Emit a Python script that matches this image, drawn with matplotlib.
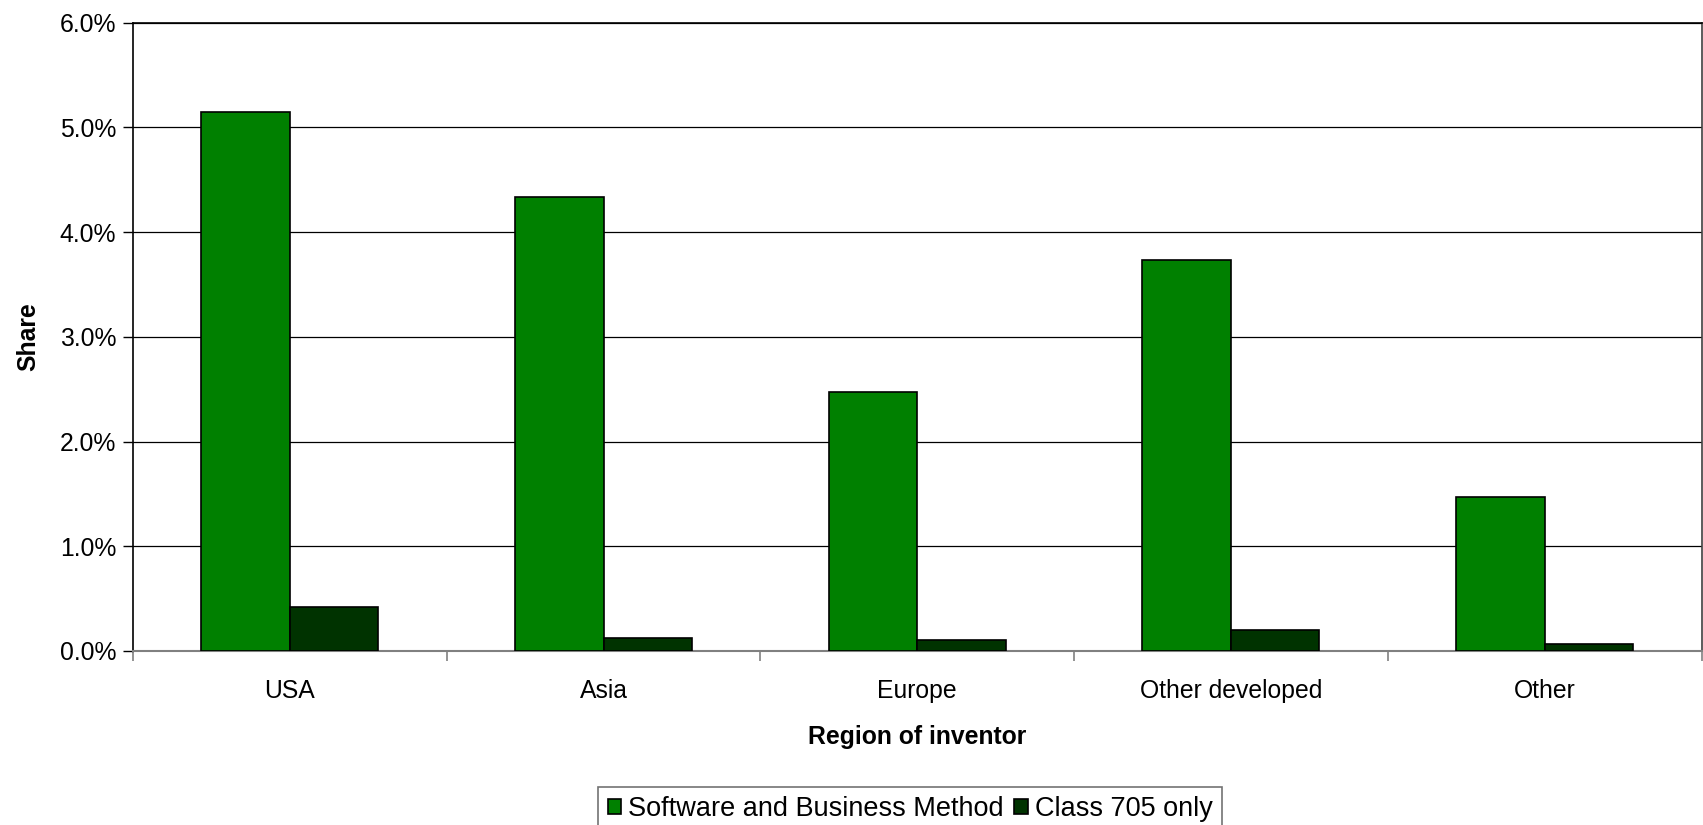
import numpy as np
import matplotlib
matplotlib.use("Agg")
import matplotlib.pyplot as plt
from matplotlib.ticker import FuncFormatter, FixedLocator

plt.rcParams['font.family'] = ['Liberation Sans', 'DejaVu Sans']

regions = ["USA", "Asia", "Europe", "Other developed", "Other"]
software_bm = [5.15, 4.34, 2.47, 3.73, 1.47]   # share, percent
class_705 = [0.42, 0.12, 0.105, 0.20, 0.07]
series_names = ["Software and Business Method", "Class 705 only"]

fs = 17.8

fig = plt.figure(figsize=(17.03, 8.25), dpi=100)
ax = fig.add_axes([133/1703, 1 - 651/825, (1701.5 - 133)/1703, (651 - 22.7)/825])

x = np.arange(len(regions))
w = 0.282
ax.bar(x - w/2, software_bm, w, color='#008000', edgecolor='black', linewidth=1.2,
       label=series_names[0], zorder=3)
ax.bar(x + w/2, class_705, w, color='#003300', edgecolor='black', linewidth=1.2,
       label=series_names[1], zorder=3)

ax.set_xlim(-0.5, len(regions) - 0.5)
ax.set_ylim(0, 6)
ax.set_yticks(np.arange(0, 6.1, 1))
ax.yaxis.set_major_formatter(FuncFormatter(lambda v, p: f"{v:.1f}%"))
ax.grid(axis='y', color='black', linewidth=0.9, zorder=0)

# category boundaries as ticks, names in between
ax.xaxis.set_major_locator(FixedLocator(np.arange(-0.5, len(regions), 1)))
ax.xaxis.set_major_formatter(FuncFormatter(lambda v, p: ""))
ax.set_xticks(x, minor=True)
ax.set_xticklabels(regions, minor=True)
ax.tick_params(axis='x', which='major', direction='out', length=7, color='#808080', width=1.2)
ax.tick_params(axis='x', which='minor', length=0, pad=20, labelsize=fs)
ax.tick_params(axis='y', direction='out', length=7, width=1, labelsize=fs, pad=5)

for s in ['left', 'top']:
    ax.spines[s].set_color('black')
    ax.spines[s].set_linewidth(1.2)
ax.spines['right'].set_color('#404040')
ax.spines['right'].set_linewidth(1.2)
ax.spines['bottom'].set_color('#808080')
ax.spines['bottom'].set_linewidth(1.5)

ax.set_ylabel("Share", fontsize=fs, fontweight='bold', labelpad=14)
ax.set_xlabel("Region of inventor", fontsize=fs, fontweight='bold', labelpad=16)

leg = fig.legend(loc='center', bbox_to_anchor=(910/1703, 1 - 809/825), ncol=2,
                 fontsize=19.5, frameon=True, fancybox=False, edgecolor='#505050',
                 handlelength=0.5, handleheight=0.5, handletextpad=0.25,
                 columnspacing=0.4, borderpad=0.35)
leg.get_frame().set_linewidth(1.2)
for h in leg.legend_handles:
    h.set_linewidth(1.2)

fig.savefig("out.png", dpi=100)
